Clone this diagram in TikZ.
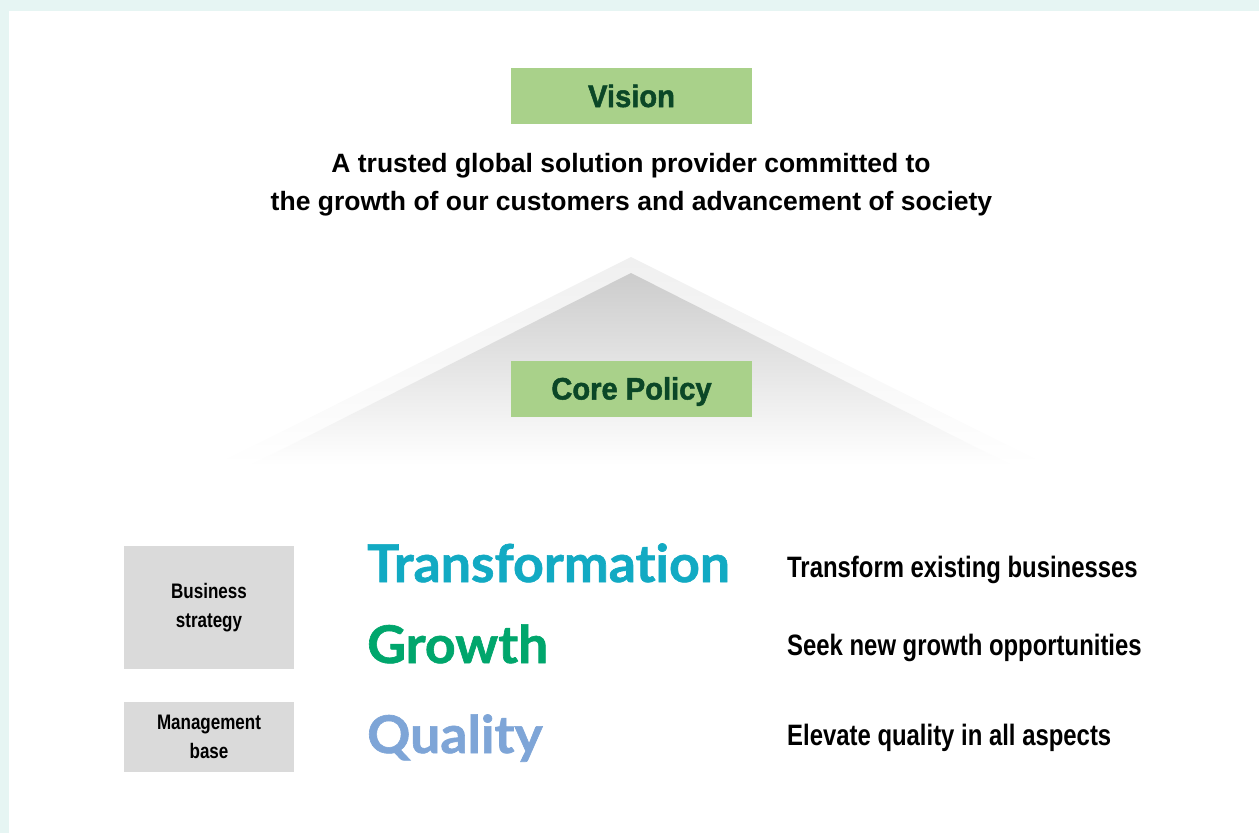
\documentclass[tikz,border=0pt]{standalone}
\usepackage{fontspec}
\setmainfont{Liberation Sans}
\newfontfamily\condfont[FakeStretch=0.81]{Liberation Sans}
\newfontfamily\headfont[FakeStretch=0.94, BoldFeatures={FakeBold=1.6}]{Liberation Sans}
\newfontfamily\wordfont[Ligatures=NoCommon, FakeStretch=1.03, BoldFeatures={FakeBold=1.2}]{Lato}
\definecolor{pagebg}{HTML}{E6F5F3}
\definecolor{boxgreen}{HTML}{A9D18A}
\definecolor{headgreen}{HTML}{0B4727}
\definecolor{boxgray}{HTML}{DADADA}
\definecolor{transcol}{HTML}{12AAC3}
\definecolor{growcol}{HTML}{00A66C}
\definecolor{qualcol}{HTML}{7EA5D7}

\begin{document}
\begin{tikzpicture}[x=1pt,y=-1pt]
  \tikzset{greenbox/.style = {fill=boxgreen, text=headgreen, minimum width=241pt, minimum height=56pt, inner sep=0pt, text height=22pt, text depth=0pt, font=\headfont\bfseries\fontsize{31}{31}\selectfont}}
  \tikzset{graybox/.style = {fill=boxgray, minimum width=170pt, inner sep=0pt, align=center, font=\condfont\bfseries\fontsize{21}{28.5}\selectfont}}
  \tikzset{statement/.style = {anchor=base, inner sep=0pt, font=\bfseries\fontsize{26.5}{38}\selectfont}}
  \tikzset{keyword/.style = {anchor=base west, inner sep=0pt, font=\wordfont\bfseries\fontsize{52}{52}\selectfont}}
  \tikzset{aim/.style = {anchor=base west, inner sep=0pt, font=\condfont\bfseries\fontsize{29.5}{30}\selectfont}}

  \useasboundingbox (0,0) rectangle (1259,833);
  \fill[pagebg] (0,0) rectangle (1259,833);
  \fill[white] (9,11) rectangle (1259,833);

  % roof
  \shade[top color=black!6, bottom color=white] (631,257) -- (215,465) -- (1047,465) -- cycle;
  \shade[top color=black!20, middle color=black!11, bottom color=white] (631,273) -- (251,465) -- (1011,465) -- cycle;

	\node[greenbox] (vision) at (631.5,96) {Vision};
	\node[statement] (line1) at (631,172) {A trusted global solution provider committed to};
	\node[statement] (line2) at (631.5,210) {the growth of our customers and advancement of society};

	\node[greenbox] (core) at (631.5,388.5) {Core Policy};

	\node[graybox, minimum height=123pt] (business) at (209,607.5) {Business\\strategy};
	\node[graybox, minimum height=70pt] (management) at (209,737) {Management\\base};

    \foreach \name/\word/\col/\yw/\desc/\yd in {transf/Transformation/transcol/582/Transform existing businesses/577,
      growth/Growth/growcol/663/Seek new growth opportunities/655,
      quality/Quality/qualcol/753/Elevate quality in all aspects/745.5}
    {
      \node[keyword, text=\col] (\name) at (367,\yw) {\word};
      \node[aim] (\name-aim) at (787,\yd) {\desc};
    }

\end{tikzpicture}
\end{document}
